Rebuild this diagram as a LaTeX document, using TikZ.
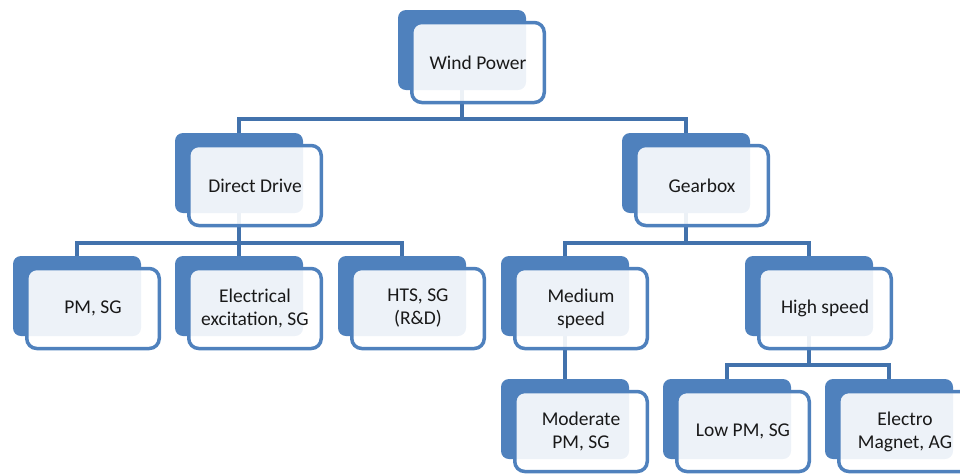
\documentclass[tikz,border=0pt]{standalone}
\usepackage{fontspec}
\setmainfont{Carlito}
\pgfdeclarelayer{bg}
\pgfsetlayers{bg,main}
\definecolor{accent}{RGB}{79,129,189}
\definecolor{connc}{RGB}{66,114,172}
\definecolor{txt}{RGB}{25,25,25}
\tikzset{
  backbox/.style={fill=accent, draw=none, rounded corners=8pt, minimum width=128pt, minimum height=80pt, inner sep=0pt, outer sep=0pt},
  frontbox/.style={draw=accent, line width=3.5pt, fill=white, fill opacity=0.9, text opacity=1, rounded corners=10pt,
    minimum width=132.5pt, minimum height=80pt, inner sep=0pt, outer sep=0pt, align=center, text=txt,
    font=\fontsize{19.5}{23}\selectfont},
  conn/.style={draw=connc, line width=3.5pt}
}
\newcommand\mkunit[4]{%
  \node[backbox] (#1b) at (#2+64,#3+40) {};
  \node[frontbox] (#1) at (#2+80,#3+52.5) {#4};
}
\begin{document}
\begin{tikzpicture}[x=1pt,y=-1pt]
\useasboundingbox (0,0) rectangle (960,475);
\mkunit{wp}{398}{10}{Wind Power}
\mkunit{dd}{175}{133}{Direct Drive}
\mkunit{gb}{622}{133}{Gearbox}
\mkunit{pm}{13}{256}{PM, SG}
\mkunit{ee}{175}{256}{Electrical\\excitation, SG}
\mkunit{hts}{338}{256}{HTS, SG\\(R\&D)}
\mkunit{med}{501}{256}{Medium\\speed}
\mkunit{hs}{745}{256}{High speed}
\mkunit{mod}{501}{379}{Moderate\\PM, SG}
\mkunit{low}{663}{379}{Low PM, SG}
\mkunit{em}{825}{379}{Electro\\Magnet, AG}
\begin{pgfonlayer}{bg}
  \coordinate (bus1) at (462,119);
  \coordinate (bus2) at (239,243);
  \coordinate (bus3) at (686,243);
  \coordinate (bus4) at (809,365);
  \draw[conn] (wpb.south) -- (bus1);
  \draw[conn] (ddb.north) |- (bus1) -| (gbb.north);
  \draw[conn] (ddb.south) -- (bus2);
  \draw[conn] (pmb.north) |- (bus2) -| (htsb.north);
  \draw[conn] (bus2) -- (eeb.north);
  \draw[conn] (gbb.south) -- (bus3);
  \draw[conn] (medb.north) |- (bus3) -| (hsb.north);
  \draw[conn] (medb.south) -- (modb.north);
  \draw[conn] (hsb.south) -- (bus4);
  \draw[conn] (lowb.north) |- (bus4) -| (emb.north);
\end{pgfonlayer}
\end{tikzpicture}
\end{document}
